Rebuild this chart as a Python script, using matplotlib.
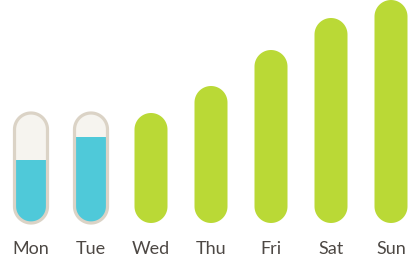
import numpy as np
import matplotlib
matplotlib.use("Agg")
import matplotlib.pyplot as plt
from matplotlib.patches import Polygon

days = ["Mon", "Tue", "Wed", "Thu", "Fri", "Sat", "Sun"]
values = [63, 86, 110, 137, 173, 205, 223]      # achieved
capacity = [110, 110, None, None, None, None, None]  # thermometer outline for partial days

GREEN = "#bad936"
CYAN = "#4fc9d9"
FILL = "#f6f4ef"
BORDER = "#dbd3c6"
TEXT = "#4d4844"

W, H, DPI = 419, 271, 100
fig = plt.figure(figsize=(W / DPI, H / DPI), dpi=DPI)
ax = fig.add_axes([0, 0, 1, 1])
ax.set_axis_off()

px_per_x = 60.0
x0_px = 31.0
ax.set_xlim(-x0_px / px_per_x, (W - x0_px) / px_per_x)
ax.set_ylim(-(H - 223), 223)

bar_w_px = 33.0
rx = bar_w_px / 2 / px_per_x   # radius in x units
ry = bar_w_px / 2              # radius in y units (1 unit = 1 px)


def capsule(cx, bottom, top, **kw):
    t1 = np.linspace(0, np.pi, 40)
    t2 = np.linspace(np.pi, 2 * np.pi, 40)
    top_c = top - ry
    bot_c = bottom + ry
    xs = np.concatenate([cx + rx * np.cos(t1), cx + rx * np.cos(t2)])
    ys = np.concatenate([top_c + ry * np.sin(t1), bot_c + ry * np.sin(t2)])
    return Polygon(np.column_stack([xs, ys]), closed=True, **kw)


x = np.arange(len(days))
for i, (d, v, c) in enumerate(zip(days, values, capacity)):
    if c is not None:
        cap = capsule(x[i], 0, c, facecolor=FILL, edgecolor="none", zorder=2)
        ax.add_patch(cap)
        fillbar = ax.bar(x[i], v, width=2 * rx, bottom=0, color=CYAN, zorder=3)
        for p in fillbar:
            p.set_clip_path(cap)
        ax.add_patch(capsule(x[i], 0, c, facecolor="none", edgecolor=BORDER,
                             linewidth=2.3, zorder=4))
    else:
        ax.add_patch(capsule(x[i], 0, v, facecolor=GREEN, edgecolor="none", zorder=2))
    ax.text(x[i], -31, d, ha="center", va="baseline", fontsize=13,
            family="Lato", color=TEXT)

fig.savefig("out.png", dpi=DPI)
